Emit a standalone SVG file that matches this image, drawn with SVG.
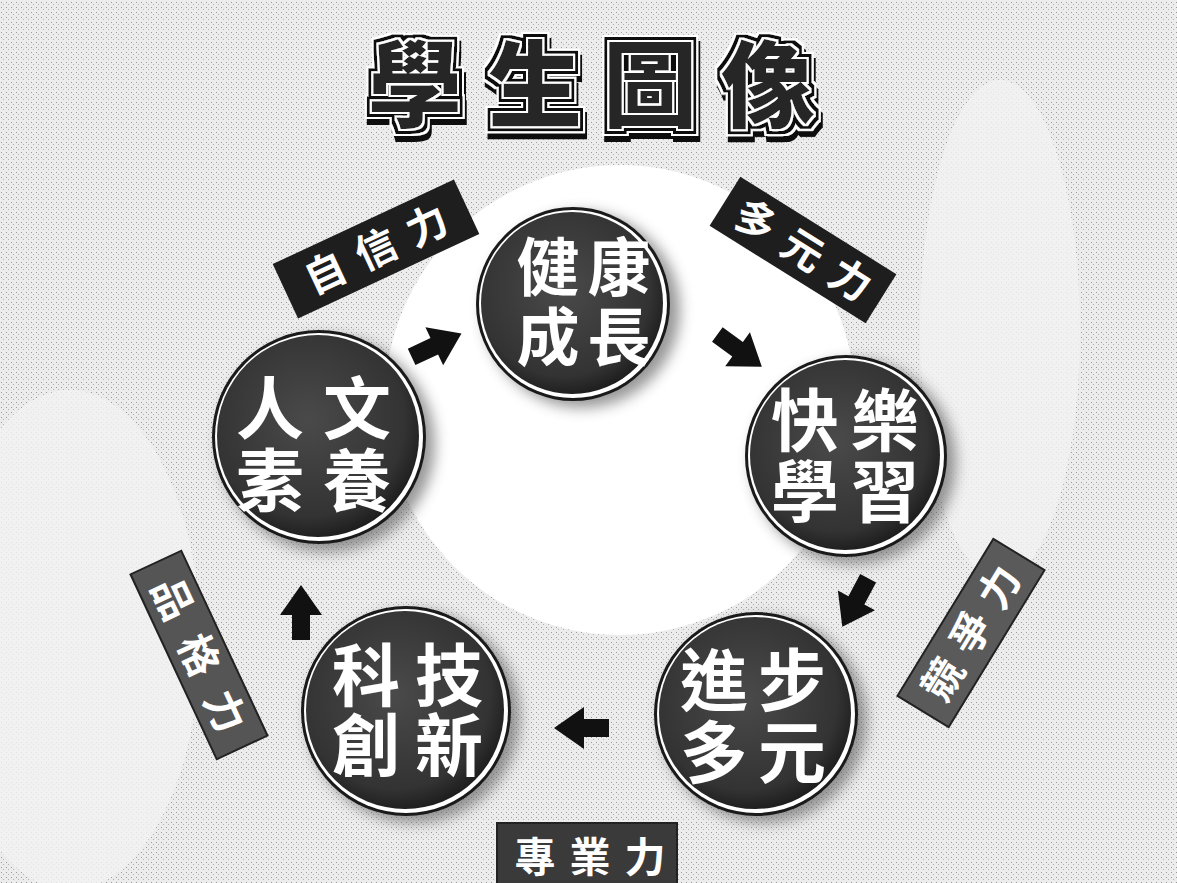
<svg xmlns="http://www.w3.org/2000/svg" width="1177" height="883" viewBox="0 0 1177 883">
<style>
.cj{font-family:"Noto Sans CJK TC","Noto Sans CJK SC",sans-serif;font-weight:700;text-anchor:middle}
.ct{fill:#ffffff;font-size:68px}
.cs{fill:#ffffff;font-size:63px}
.lt{fill:#ffffff;font-size:41px;font-weight:700}
.ttl{font-size:94px;font-weight:900;fill:#262626}
.arrow{fill:#111111}
</style>
<defs>
<radialGradient id="disk" cx="0.45" cy="0.42" r="0.6">
<stop offset="0" stop-color="#4a4a4a"/>
<stop offset="0.8" stop-color="#333333"/>
<stop offset="1" stop-color="#1c1c1c"/>
</radialGradient>
<filter id="blur" x="-30%" y="-30%" width="160%" height="160%"><feGaussianBlur stdDeviation="7"/></filter>
<filter id="outline" x="-20%" y="-20%" width="140%" height="150%">
<feMorphology in="SourceAlpha" operator="dilate" radius="7" result="d7"/>
<feOffset in="d7" dx="2" dy="6" result="d7o"/>
<feFlood flood-color="#111111" result="blk"/>
<feComposite in="blk" in2="d7o" operator="in" result="shadow"/>
<feFlood flood-color="#ffffff" result="wht"/>
<feComposite in="wht" in2="d7" operator="in" result="halo"/>
<feMorphology in="SourceAlpha" operator="dilate" radius="5" result="d5"/>
<feComposite in="blk" in2="d5" operator="in" result="ring"/>
<feMorphology in="SourceAlpha" operator="dilate" radius="2" result="d2"/>
<feComposite in="wht" in2="d2" operator="in" result="inner"/>
<feMerge><feMergeNode in="shadow"/><feMergeNode in="halo"/><feMergeNode in="ring"/><feMergeNode in="inner"/><feMergeNode in="SourceGraphic"/></feMerge>
</filter>
<pattern id="dots" width="5" height="5" patternUnits="userSpaceOnUse">
<rect width="5" height="5" fill="#ececec"/>
<rect x="1" y="2" width="1" height="1" fill="#9a9a9a"/>
<rect x="3" y="4" width="1" height="1" fill="#b0b0b0"/>
</pattern>
<path id="arw" d="M27,0 L-3,-21 L-3,-9 L-28,-9 L-28,9 L-3,9 L-3,21 Z"/>
</defs>

<!-- background -->
<rect width="1177" height="883" fill="url(#dots)"/>
<ellipse cx="1000" cy="330" rx="80" ry="250" fill="#f3f3f3" opacity="0.8"/>
<ellipse cx="70" cy="640" rx="130" ry="250" fill="#f3f3f3" opacity="0.8"/>
<circle cx="620" cy="400" r="235" fill="#ffffff"/>

<!-- title -->
<g id="title" class="cj ttl" filter="url(#outline)">
<text x="415 535 650 768" y="120">學生圖像</text>
</g>

<!-- nodes -->
<g id="node-health">
<circle cx="582" cy="310" r="98" fill="#555" opacity="0.6" filter="url(#blur)"/>
<circle cx="573" cy="304" r="97" fill="#1a1a1a"/>
<circle cx="573" cy="304" r="94" fill="#ffffff"/>
<circle cx="572" cy="303" r="91" fill="url(#disk)"/>
<text class="cj cs" x="548 619 548 619" y="290 290 360 360">健康成長</text>
</g>

<g id="node-happy">
<circle cx="854" cy="462" r="102" fill="#555" opacity="0.6" filter="url(#blur)"/>
<circle cx="846" cy="456" r="101" fill="#1a1a1a"/>
<circle cx="846" cy="456" r="98" fill="#ffffff"/>
<circle cx="845" cy="455" r="95" fill="url(#disk)"/>
<text class="cj ct" x="805 885 805 885" y="446 446 517 517">快樂學習</text>
</g>

<g id="node-progress">
<circle cx="764" cy="720" r="103" fill="#555" opacity="0.6" filter="url(#blur)"/>
<circle cx="756" cy="714" r="102" fill="#1a1a1a"/>
<circle cx="756" cy="714" r="99" fill="#ffffff"/>
<circle cx="755" cy="713" r="96" fill="url(#disk)"/>
<text class="cj ct" x="714 792 714 792" y="706 706 778 778">進步多元</text>
</g>

<g id="node-tech">
<circle cx="414" cy="717" r="106" fill="#555" opacity="0.6" filter="url(#blur)"/>
<circle cx="406" cy="711" r="105" fill="#1a1a1a"/>
<circle cx="406" cy="711" r="102" fill="#ffffff"/>
<circle cx="405" cy="710" r="99" fill="url(#disk)"/>
<text class="cj ct" x="366 449 366 449" y="701 701 771 771">科技創新</text>
</g>

<g id="node-humanity">
<circle cx="327" cy="444" r="108" fill="#555" opacity="0.6" filter="url(#blur)"/>
<circle cx="319" cy="437" r="107" fill="#1a1a1a"/>
<circle cx="319" cy="437" r="104" fill="#ffffff"/>
<circle cx="318" cy="436" r="101" fill="url(#disk)"/>
<text class="cj ct" x="270 357 270 357" y="434 434 506 506">人文素養</text>
</g>

<!-- labels -->
<g id="label-confidence" transform="translate(376,249) rotate(-25)">
<rect x="-100" y="-30" width="200" height="60" fill="#1e1e1e"/>
<text class="cj lt" x="-56 0 56" y="15">自信力</text>
</g>
<g id="label-diverse" transform="translate(803,250) rotate(32)">
<rect x="-92" y="-29" width="184" height="58" fill="#1e1e1e"/>
<text class="cj lt" x="-56 0 56" y="15">多元力</text>
</g>
<g id="label-compete" transform="translate(971,633) rotate(-58.6)">
<rect x="-92" y="-30" width="184" height="60" fill="#5a5a5a" stroke="#222" stroke-width="2"/>
<text class="cj lt" x="-54 0 54" y="15">競爭力</text>
</g>
<g id="label-character" transform="translate(199,655) rotate(65)">
<rect x="-102" y="-28" width="204" height="56" fill="#555555" stroke="#222" stroke-width="2"/>
<text class="cj lt" x="-62 0 62" y="15">品格力</text>
</g>
<g id="label-professional">
<rect x="497" y="823" width="180" height="62" fill="#3a3a3a" stroke="#222" stroke-width="2"/>
<text class="cj lt" x="535 590 645" y="872">專業力</text>
</g>

<!-- connectors -->
<g id="connectors" class="arrow">
<use href="#arw" transform="translate(437,345) rotate(-25)"/>
<use href="#arw" transform="translate(740,351) rotate(36)"/>
<use href="#arw" transform="translate(855,603) rotate(118)"/>
<use href="#arw" transform="translate(581,728) rotate(180)"/>
<use href="#arw" transform="translate(301,612) rotate(-90)"/>
</g>
</svg>
